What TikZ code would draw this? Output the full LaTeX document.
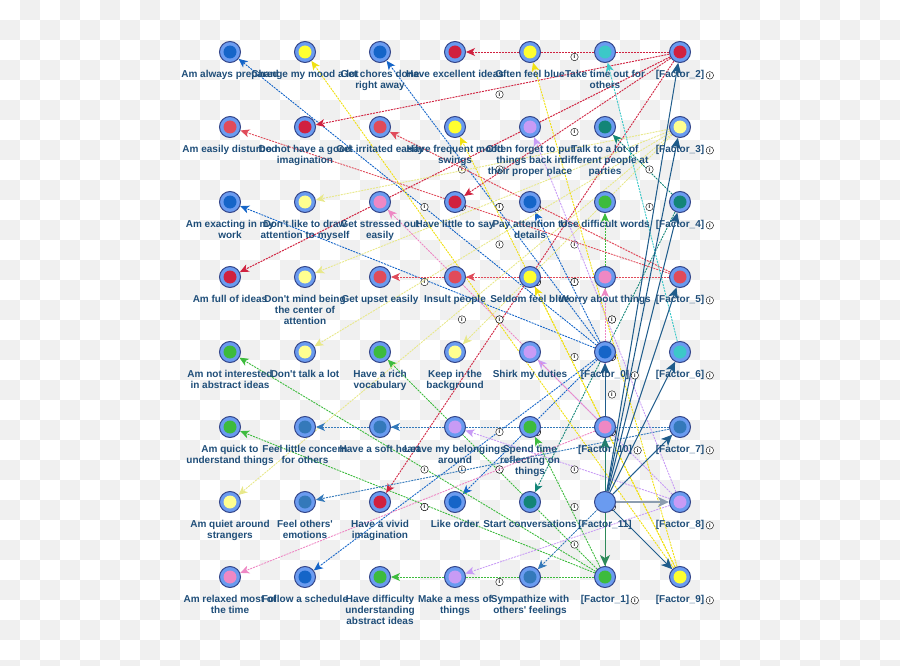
\documentclass[tikz,border=0pt]{standalone}
\usepackage{fontspec}
\setmainfont{Liberation Sans}[Ligatures=TeXOff]
\usepackage{xcolor}
\usepackage{tikz}
\usetikzlibrary{arrows.meta, positioning, backgrounds}

\definecolor{checker}{HTML}{F0F0F0}
\definecolor{ringfill}{HTML}{6A9BF0}
\definecolor{ringline}{HTML}{34468A}
\definecolor{labeltext}{HTML}{1F4E79}
\definecolor{fblue}{HTML}{1565C8}
\definecolor{fgreen}{HTML}{3DBB3D}
\definecolor{fred}{HTML}{D0213F}
\definecolor{fpaleyellow}{HTML}{FFFF90}
\definecolor{fpaleline}{HTML}{E8E88A}
\definecolor{fteal}{HTML}{138577}
\definecolor{frose}{HTML}{E04B5A}
\definecolor{fcyan}{HTML}{3CC8C8}
\definecolor{fsteel}{HTML}{3479BA}
\definecolor{flavender}{HTML}{C89BF5}
\definecolor{fyellow}{HTML}{FFFF30}
\definecolor{fyellowline}{HTML}{F0E010}
\definecolor{fpink}{HTML}{EE88C4}
\definecolor{fnavy}{HTML}{1F5C8B}
\definecolor{fgreendark}{HTML}{2E8A5A}
\definecolor{ftealdark}{HTML}{237E6E}
\definecolor{fgrey}{HTML}{8C9DB0}

\begin{document}
\begin{tikzpicture}[
    x=1pt, y=-1pt,
    item/.style={circle, draw=ringline, fill=ringfill, line width=1pt, minimum size=21pt, inner sep=0pt,
      path picture={\fill[#1] (path picture bounding box.center) circle[radius=6.5pt];}},
    hub/.style={circle, draw=ringline, fill=ringfill, line width=1pt, minimum size=21pt, inner sep=0pt},
    lbl/.style={font=\fontsize{10}{11}\selectfont\bfseries, text=labeltext, align=center, inner sep=0pt},
    infomark/.style={circle, solid, draw=black, fill=white, line width=0.4pt, minimum size=7.5pt, inner sep=0pt,
      text=black, font=\fontsize{5.5}{5.5}\selectfont\bfseries, xshift=7pt, yshift=-5pt},
    loading/.style={draw=#1, line width=0.9pt, dash pattern=on 2pt off 1pt,
      -{Stealth[length=9pt, width=8pt, inset=2.5pt]}},
    struct/.style={draw=#1, line width=1pt, -{Stealth[length=11pt, width=10pt, inset=3pt]}},
    label distance=7.5pt
  ]
  \useasboundingbox (0,0) rectangle (900,666);

  % Row 1
  \node[item=fblue, label={[lbl]below:Am always prepared}] (prep) at (230,52) {};
  \node[item=fyellow, label={[lbl]below:Change my mood a lot}] (mood) at (305,52) {};
  \node[item=fblue, label={[lbl]below:Get chores done\\right away}] (chores) at (380,52) {};
  \node[item=fred, label={[lbl]below:Have excellent ideas}] (ideas) at (455,52) {};
  \node[item=fyellow, label={[lbl]below:Often feel blue}] (feelblue) at (530,52) {};
  \node[item=fcyan, label={[lbl]below:Take time out for\\others}] (timeout) at (605,52) {};
  \node[item=fred, label={[lbl, name=f2-l]below:[Factor\_2]}] (f2) at (680,52) {};
  % Row 2
  \node[item=frose, label={[lbl]below:Am easily disturbed}] (disturbed) at (230,127) {};
  \node[item=fred, label={[lbl]below:Do not have a good\\imagination}] (noimag) at (305,127) {};
  \node[item=frose, label={[lbl]below:Get irritated easily}] (irritated) at (380,127) {};
  \node[item=fyellow, label={[lbl]below:Have frequent mood\\swings}] (swings) at (455,127) {};
  \node[item=flavender, label={[lbl]below:Often forget to put\\things back in\\their proper place}] (forget) at (530,127) {};
  \node[item=fteal, label={[lbl]below:Talk to a lot of\\different people at\\parties}] (parties) at (605,127) {};
  \node[item=fpaleyellow, label={[lbl, name=f3-l]below:[Factor\_3]}] (f3) at (680,127) {};
  % Row 3
  \node[item=fblue, label={[lbl]below:Am exacting in my\\work}] (exacting) at (230,202) {};
  \node[item=fpaleyellow, label={[lbl]below:Don't like to draw\\attention to myself}] (noattn) at (305,202) {};
  \node[item=fpink, label={[lbl]below:Get stressed out\\easily}] (stressed) at (380,202) {};
  \node[item=fred, label={[lbl]below:Have little to say}] (littlesay) at (455,202) {};
  \node[item=fblue, label={[lbl]below:Pay attention to\\details}] (details) at (530,202) {};
  \node[item=fgreen, label={[lbl]below:Use difficult words}] (words) at (605,202) {};
  \node[item=fteal, label={[lbl, name=f4-l]below:[Factor\_4]}] (f4) at (680,202) {};
  % Row 4
  \node[item=fred, label={[lbl]below:Am full of ideas}] (fullideas) at (230,277) {};
  \node[item=fpaleyellow, label={[lbl]below:Don't mind being\\the center of\\attention}] (center) at (305,277) {};
  \node[item=frose, label={[lbl]below:Get upset easily}] (upset) at (380,277) {};
  \node[item=frose, label={[lbl]below:Insult people}] (insult) at (455,277) {};
  \node[item=fyellow, label={[lbl]below:Seldom feel blue}] (seldom) at (530,277) {};
  \node[item=fpink, label={[lbl]below:Worry about things}] (worry) at (605,277) {};
  \node[item=frose, label={[lbl, name=f5-l]below:[Factor\_5]}] (f5) at (680,277) {};
  % Row 5
  \node[item=fgreen, label={[lbl]below:Am not interested\\in abstract ideas}] (abstract) at (230,352) {};
  \node[item=fpaleyellow, label={[lbl]below:Don't talk a lot}] (talk) at (305,352) {};
  \node[item=fgreen, label={[lbl]below:Have a rich\\vocabulary}] (vocab) at (380,352) {};
  \node[item=fpaleyellow, label={[lbl]below:Keep in the\\background}] (background) at (455,352) {};
  \node[item=flavender, label={[lbl]below:Shirk my duties}] (shirk) at (530,352) {};
  \node[item=fblue, label={[lbl, name=f0-l]below:[Factor\_0]}] (f0) at (605,352) {};
  \node[item=fcyan, label={[lbl, name=f6-l]below:[Factor\_6]}] (f6) at (680,352) {};
  % Row 6
  \node[item=fgreen, label={[lbl]below:Am quick to\\understand things}] (quick) at (230,427) {};
  \node[item=fsteel, label={[lbl]below:Feel little concern\\for others}] (concern) at (305,427) {};
  \node[item=fsteel, label={[lbl]below:Have a soft heart}] (soft) at (380,427) {};
  \node[item=flavender, label={[lbl]below:Leave my belongings\\around}] (belongings) at (455,427) {};
  \node[item=fgreen, label={[lbl]below:Spend time\\reflecting on\\things}] (reflect) at (530,427) {};
  \node[item=fpink, label={[lbl, name=f10-l]below:[Factor\_10]}] (f10) at (605,427) {};
  \node[item=fsteel, label={[lbl, name=f7-l]below:[Factor\_7]}] (f7) at (680,427) {};
  % Row 7
  \node[item=fpaleyellow, label={[lbl]below:Am quiet around\\strangers}] (quiet) at (230,502) {};
  \node[item=fsteel, label={[lbl]below:Feel others'\\emotions}] (emotions) at (305,502) {};
  \node[item=fred, label={[lbl]below:Have a vivid\\imagination}] (vivid) at (380,502) {};
  \node[item=fblue, label={[lbl]below:Like order}] (order) at (455,502) {};
  \node[item=fteal, label={[lbl]below:Start conversations}] (convo) at (530,502) {};
  \node[hub, label={[lbl]below:[Factor\_11]}] (f11) at (605,502) {};
  \node[item=flavender, label={[lbl, name=f8-l]below:[Factor\_8]}] (f8) at (680,502) {};
  % Row 8
  \node[item=fpink, label={[lbl]below:Am relaxed most of\\the time}] (relaxed) at (230,577) {};
  \node[item=fblue, label={[lbl]below:Follow a schedule}] (schedule) at (305,577) {};
  \node[item=fgreen, label={[lbl]below:Have difficulty\\understanding\\abstract ideas}] (difficulty) at (380,577) {};
  \node[item=flavender, label={[lbl]below:Make a mess of\\things}] (mess) at (455,577) {};
  \node[item=fsteel, label={[lbl]below:Sympathize with\\others' feelings}] (sympathize) at (530,577) {};
  \node[item=fgreen, label={[lbl, name=f1-l]below:[Factor\_1]}] (f1) at (605,577) {};
  \node[item=fyellow, label={[lbl, name=f9-l]below:[Factor\_9]}] (f9) at (680,577) {};

  % Info marks beside the factor labels
  \foreach \f in {f0,f1,f2,f3,f4,f5,f6,f7,f8,f9,f10}
    \node[infomark, xshift=-7pt, yshift=5pt, right=1.5pt of \f-l] {i};

  \begin{scope}[on background layer]
    % Checker board
    \foreach \j in {0,...,33}
      \foreach \i in {0,2,...,44}
        \fill[checker] ({(\i+1-mod(\j,2))*20},{\j*20}) rectangle +(20,20);

    % Loadings
    \foreach \t in {prep,chores,exacting,details,order,schedule}
      \draw[loading=fblue] (f0) -- node[infomark] {i} (\t);
    \foreach \t in {words,abstract,vocab,quick,reflect,difficulty}
      \draw[loading=fgreen] (f1) -- node[infomark] {i} (\t);
    \foreach \t in {ideas,noimag,littlesay,fullideas,vivid}
      \draw[loading=fred] (f2) -- node[infomark] {i} (\t);
    \foreach \t in {noattn,center,talk,background,quiet}
      \draw[loading=fpaleline] (f3) -- node[infomark] {i} (\t);
    \foreach \t in {parties,convo}
      \draw[loading=fteal] (f4) -- node[infomark] {i} (\t);
    \foreach \t in {disturbed,irritated,upset,insult}
      \draw[loading=frose] (f5) -- node[infomark] {i} (\t);
    \draw[loading=fcyan] (f6) -- node[infomark] {i} (timeout);
    \foreach \t in {concern,soft,emotions,sympathize}
      \draw[loading=fsteel] (f7) -- node[infomark] {i} (\t);
    \foreach \t in {forget,shirk,belongings,mess}
      \draw[loading=flavender] (f8) -- node[infomark] {i} (\t);
    \foreach \t in {mood,feelblue,swings,seldom}
      \draw[loading=fyellowline] (f9) -- node[infomark] {i} (\t);
    \foreach \t in {stressed,worry,relaxed}
      \draw[loading=fpink] (f10) -- node[infomark] {i} (\t);

    % Second order paths
    \foreach \t in {f0,f2,f3,f4,f5,f6,f7,f9}
      \draw[struct=fnavy] (f11) -- (\t);
    \draw[struct=ftealdark] (f11) -- (f10);
    \draw[struct=fgreendark] (f11) -- (f1);
    \draw[struct=fgrey, line width=2pt] (f11) -- (f8);
  \end{scope}
\end{tikzpicture}
\end{document}
